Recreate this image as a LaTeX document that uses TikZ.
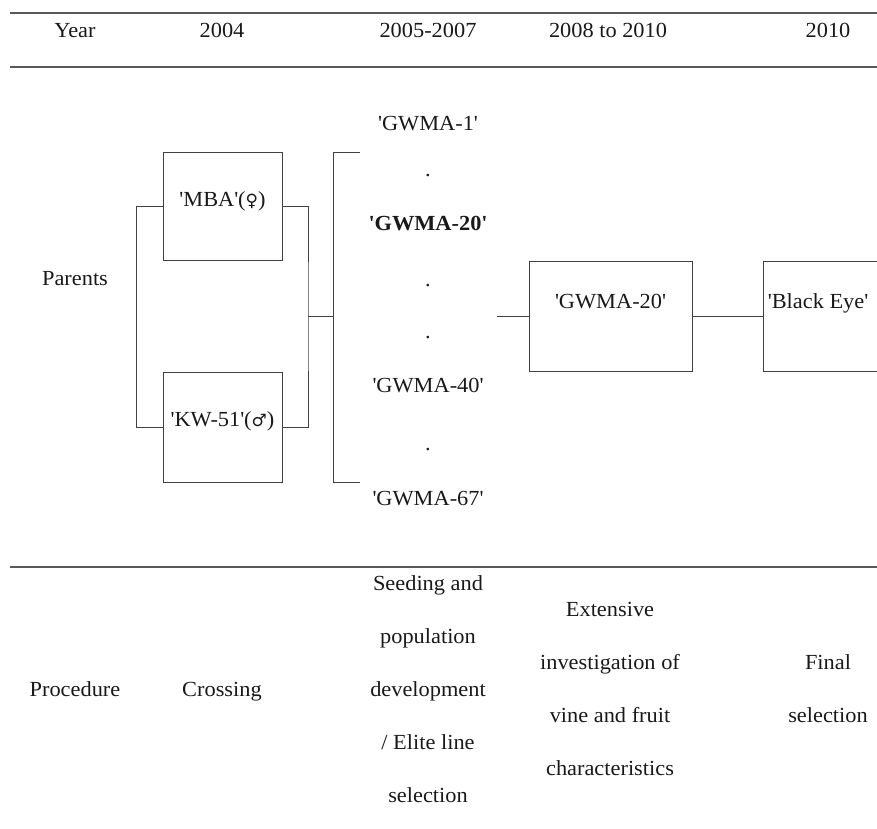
\documentclass[tikz,border=0pt]{standalone}
\usepackage{fontspec}
\setmainfont{Liberation Serif}[FakeStretch=1.04]
\newfontfamily\symfont{DejaVu Sans}
\newcommand{\sq}{\textquotesingle}
\begin{document}
\begin{tikzpicture}[x=1pt,y=-1pt,
  lbl/.style={inner sep=0pt,font=\fontsize{21.5}{53}\selectfont,text=black!90,align=center},
  one/.style={lbl,text height=18pt,text depth=2pt},
  box/.style={draw=black!75,line width=1pt,inner sep=0pt},
  con/.style={draw=black!75,line width=1pt},
  rule/.style={draw=black!65,line width=1.3pt}]
\useasboundingbox (0,0) rectangle (877,828);
% rules
\coordinate (r1a) at (10,13); \coordinate (r1b) at (877,13);
\coordinate (r2a) at (10,67); \coordinate (r2b) at (877,67);
\coordinate (r3a) at (10,567); \coordinate (r3b) at (877,567);
\draw[rule] (r1a) -- (r1b);
\draw[rule] (r2a) -- (r2b);
\draw[rule] (r3a) -- (r3b);
% header
\node[one] (hy) at (75,29) {Year};
\node[one] (h1) at (222,29) {2004};
\node[one] (h2) at (428,29) {2005-2007};
\node[one] (h3) at (608,29) {2008 to 2010};
\node[one] (h4) at (828,29) {2010};
% parents
\node[one] (par) at (75,277) {Parents};
\node[box,minimum width=119,minimum height=108] (mba) at (222.5,206) {};
\node[one] (mbat) at (222.5,198) {\sq MBA\sq({\symfont\fontsize{17}{20}\selectfont ♀})};
\node[box,minimum width=119,minimum height=110] (kw) at (222.5,427) {};
\node[one] (kwt) at (222.5,418) {\sq KW-51\sq({\symfont\fontsize{17}{20}\selectfont ♂})};
\draw[con] (mba.west) -- ++(-26,0) |- (kw.west);
\coordinate (jr) at (308,316);
\coordinate (jb) at (333,316);
\draw[con] (mba.east) -| (jr) |- (kw.east);
\draw[con] (jr) -- (jb);
\coordinate (bt) at (360,152);
\coordinate (bb) at (360,482);
\draw[con] (bt) -- (333,152) -- (333,482) -- (bb);
% list
\node[one] (g1) at (428,122) {\sq GWMA-1\sq};
\node[lbl] (d1) at (428,176) {.};
\node[one] (g20) at (428,222) {\bfseries \sq GWMA-20\sq};
\node[lbl] (d2) at (428,286) {.};
\node[lbl] (d3) at (428,338) {.};
\node[one] (g40) at (428,384) {\sq GWMA-40\sq};
\node[lbl] (d4) at (428,450) {.};
\node[one] (g67) at (428,497) {\sq GWMA-67\sq};
% selected
\node[box,minimum width=163,minimum height=110] (gw) at (610.5,316) {};
\node[one] (gwt) at (610.5,300) {\sq GWMA-20\sq};
\node[box,minimum width=163,minimum height=110,anchor=west] (be) at (763,316) {};
\node[one] (bet) at (818,300) {\sq Black Eye\sq};
\coordinate (gl) at (497,316);
\draw[con] (gl) -- (gw.west);
\draw[con] (gw.east) -- (be.west);
% procedure
\node[one] (pr) at (75,688) {Procedure};
\node[one] (cr) at (222,688) {Crossing};
\node[lbl] (sd) at (428,689) {Seeding and\\population\\development\\/ Elite line\\selection};
\node[lbl] (ex) at (610,689) {Extensive\\investigation of\\vine and fruit\\characteristics};
\node[lbl] (fs) at (828,689) {Final\\selection};
\end{tikzpicture}
\end{document}
